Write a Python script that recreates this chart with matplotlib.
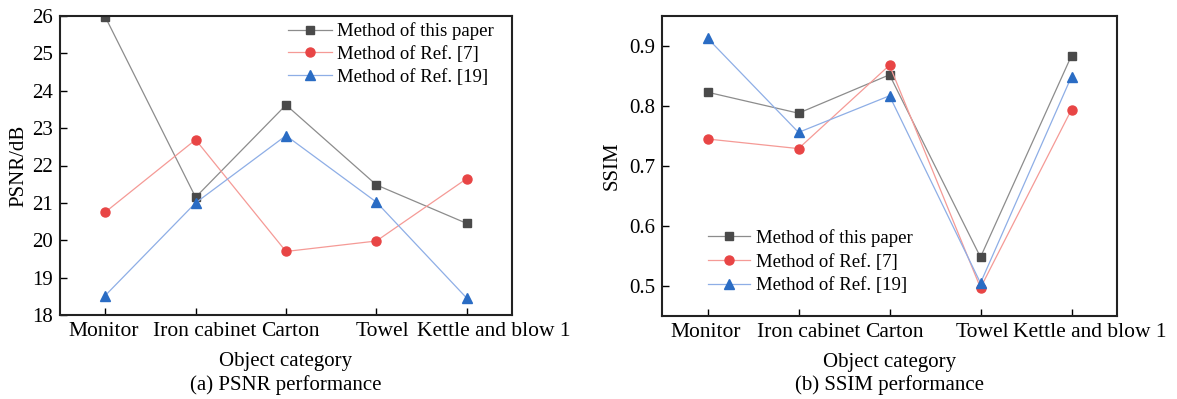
import matplotlib
matplotlib.use("Agg")
import matplotlib.pyplot as plt
from matplotlib.transforms import ScaledTranslation

plt.rcParams['font.family'] = ['Liberation Serif', 'DejaVu Serif']

categories = ["Monitor", "Iron cabinet", "Carton", "Towel", "Kettle and blow 1"]
series_names = ["Method of this paper", "Method of Ref. [7]", "Method of Ref. [19]"]

psnr_this = [25.98, 21.15, 23.62, 21.48, 20.45]
psnr_ref7 = [20.75, 22.69, 19.70, 19.98, 21.65]
psnr_ref19 = [18.52, 21.00, 22.80, 21.02, 18.45]

ssim_this = [0.823, 0.788, 0.852, 0.548, 0.884]
ssim_ref7 = [0.745, 0.729, 0.868, 0.497, 0.794]
ssim_ref19 = [0.913, 0.756, 0.817, 0.505, 0.849]

line_colors = ["#8c8c8c", "#f59a96", "#8eaee6"]
marker_colors = ["#4a4a4a", "#e84545", "#2a6cc4"]
markers = ["s", "o", "^"]
msizes = [6.0, 6.5, 7.0]

# horizontal nudges (pixels) of tick labels, as laid out in the original figure
label_shift_a = [-2, 9, 4, 6, 27]
label_shift_b = [-2, 10, 5, 2, 18]

W, H = 1177, 399
fig = plt.figure(figsize=(W / 100, H / 100), dpi=100)
ax1 = fig.add_axes([60 / W, 1 - 315 / H, 452 / W, 299 / H])
ax2 = fig.add_axes([662 / W, 1 - 316 / H, 455 / W, 300 / H])

x = list(range(1, len(categories) + 1))
FS = 15
XFS = 15.5
LFS = 13.5

def draw(ax, data, shifts):
    for vals, lc, mc, mk, ms, name in zip(data, line_colors, marker_colors, markers, msizes, series_names):
        ax.plot(x, vals, color=lc, lw=0.9, marker=mk, markersize=ms,
                markerfacecolor=mc, markeredgecolor=mc, label=name)
    ax.set_xlim(0.5, 5.5)
    ax.set_xticks(x)
    ax.set_xticklabels(categories, fontsize=XFS)
    ax.tick_params(direction='in', length=5, width=1.0)
    ax.tick_params(axis='x', pad=5, labelsize=XFS)
    ax.tick_params(axis='y', pad=5, labelsize=FS)
    for lab, dx in zip(ax.get_xticklabels(), shifts):
        lab.set_transform(lab.get_transform() + ScaledTranslation(dx / 100, 0, fig.dpi_scale_trans))
    for s in ax.spines.values():
        s.set_linewidth(1.5)
        s.set_color('#222222')
    ax.set_xlabel("Object category", fontsize=FS, labelpad=8)

draw(ax1, [psnr_this, psnr_ref7, psnr_ref19], label_shift_a)
ax1.set_ylim(18, 26)
ax1.set_yticks(range(18, 27))
ax1.set_ylabel("PSNR/dB", fontsize=FS, labelpad=3)
ax1.legend(loc='upper left', bbox_to_anchor=((288 - 60) / 452, 0.978), frameon=False, fontsize=LFS,
           handlelength=2.35, handletextpad=0.27, labelspacing=0.29, borderpad=0, borderaxespad=0)

draw(ax2, [ssim_this, ssim_ref7, ssim_ref19], label_shift_b)
ax2.set_ylim(0.45, 0.95)
ax2.set_yticks([0.5, 0.6, 0.7, 0.8, 0.9])
ax2.set_yticklabels(["0.5", "0.6", "0.7", "0.8", "0.9"])
ax2.set_ylabel("SSIM", fontsize=FS, labelpad=5)
ax2.legend(loc='lower left', bbox_to_anchor=((708 - 662) / 455, 0.072), frameon=False, fontsize=LFS,
           handlelength=2.25, handletextpad=0.32, labelspacing=0.36, borderpad=0, borderaxespad=0)

fig.text((60 + 512) / 2 / W, 1 - 385 / H, "(a) PSNR performance", ha='center', va='center', fontsize=FS)
fig.text((662 + 1117) / 2 / W, 1 - 385 / H, "(b) SSIM performance", ha='center', va='center', fontsize=FS)

fig.savefig("out.png", dpi=100)
